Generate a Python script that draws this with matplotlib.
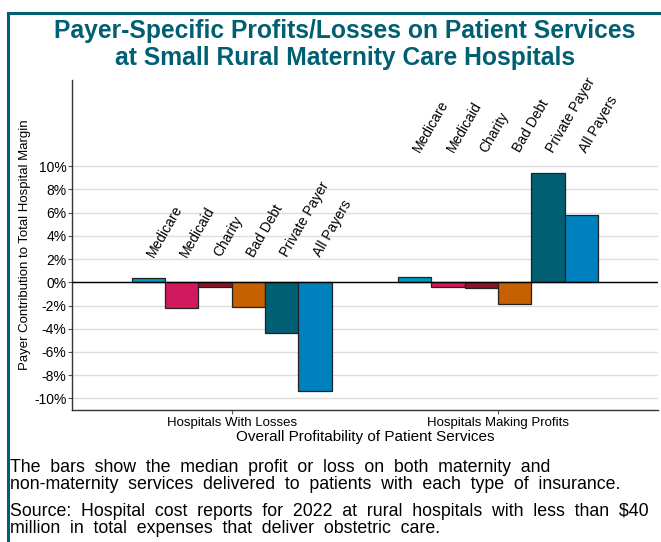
import matplotlib.pyplot as plt
from matplotlib.patches import Rectangle
from matplotlib.ticker import FuncFormatter
import numpy as np

groups = ['Hospitals With Losses', 'Hospitals Making Profits']
payers = ['Medicare', 'Medicaid', 'Charity', 'Bad Debt', 'Private Payer', 'All Payers']
losses = [0.4, -2.2, -0.4, -2.15, -4.4, -9.4]
profits = [0.45, -0.4, -0.5, -1.9, 9.4, 5.8]
payer_colors = ['#0097bd', '#d2195e', '#8c1428', '#c66000', '#005f73', '#0081bf']

TEAL = '#005f73'
NARROW = ['Liberation Sans Narrow', 'Liberation Sans']
plt.rcParams['font.family'] = ['Liberation Sans', 'DejaVu Sans']

fig = plt.figure(figsize=(6.61, 5.42), dpi=100)
ax = fig.add_axes([0.109, 0.2435, 0.886, 0.6085])

width = 0.125
centers = np.array([1.0, 2.0])
offsets = (np.arange(len(payers)) - 2.5) * width

for gi, vals in enumerate([losses, profits]):
    xs = centers[gi] + offsets
    ax.bar(xs, vals, width=width, color=payer_colors, edgecolor='#222222', linewidth=0.9, zorder=3)
    label_y = max(max(vals), 0) + 1.6
    for x, name in zip(xs, payers):
        ax.text(x + 0.03, label_y, name, rotation=60, rotation_mode='anchor',
                ha='left', va='bottom', fontsize=10, zorder=4)

ax.axhline(0, color='black', linewidth=1, zorder=4)

# y-axis
ax.set_ylim(-11, 17.4)
ax.set_yticks(np.arange(-10, 11, 2))
ax.yaxis.set_major_formatter(FuncFormatter(lambda v, p: f'{v:.0f}%'))
ax.yaxis.grid(True, color='#dddddd', linewidth=1, zorder=0)
ax.tick_params(axis='y', length=3, labelsize=10, pad=1, color='#555555')
ax.set_ylabel('Payer Contribution to Total Hospital Margin', fontsize=9.5, labelpad=2)

# x-axis
ax.set_xlim(0.4, 2.6)
ax.set_xticks(centers)
ax.set_xticklabels(groups)
ax.tick_params(axis='x', length=3, labelsize=9.5, pad=2, color='#555555')
ax.set_xlabel('Overall Profitability of Patient Services', fontsize=11, labelpad=1)

for s in ['top', 'right']:
    ax.spines[s].set_visible(False)
for s in ['left', 'bottom']:
    ax.spines[s].set_color('#333333')
    ax.spines[s].set_linewidth(1)

# frame and title
fig.patches.append(Rectangle((8 / 661, -0.05), 1.2, 1 - 13 / 542 + 0.05, transform=fig.transFigure,
                             fill=False, edgecolor=TEAL, linewidth=2.2))
fig.text(0.522, 0.918, 'Payer-Specific Profits/Losses on Patient Services\nat Small Rural Maternity Care Hospitals',
         ha='center', va='center', fontsize=17.7, fontweight='bold', color=TEAL,
         family=NARROW, linespacing=1.15)

note = ('The bars show the median profit or loss on both maternity and\n'
        'non-maternity services delivered to patients with each type of insurance.')
source = ('Source: Hospital cost reports for 2022 at rural hospitals with less than $40\n'
          'million in total expenses that deliver obstetric care.')
fig.text(0.015, 0.121, note.replace(' ', '  '), ha='left', va='center', fontsize=12.8,
         family=NARROW, linespacing=1.0)
fig.text(0.015, 0.0415, source.replace(' ', '  '), ha='left', va='center', fontsize=12.8,
         family=NARROW, linespacing=1.0)

fig.savefig('out.png', dpi=100)
